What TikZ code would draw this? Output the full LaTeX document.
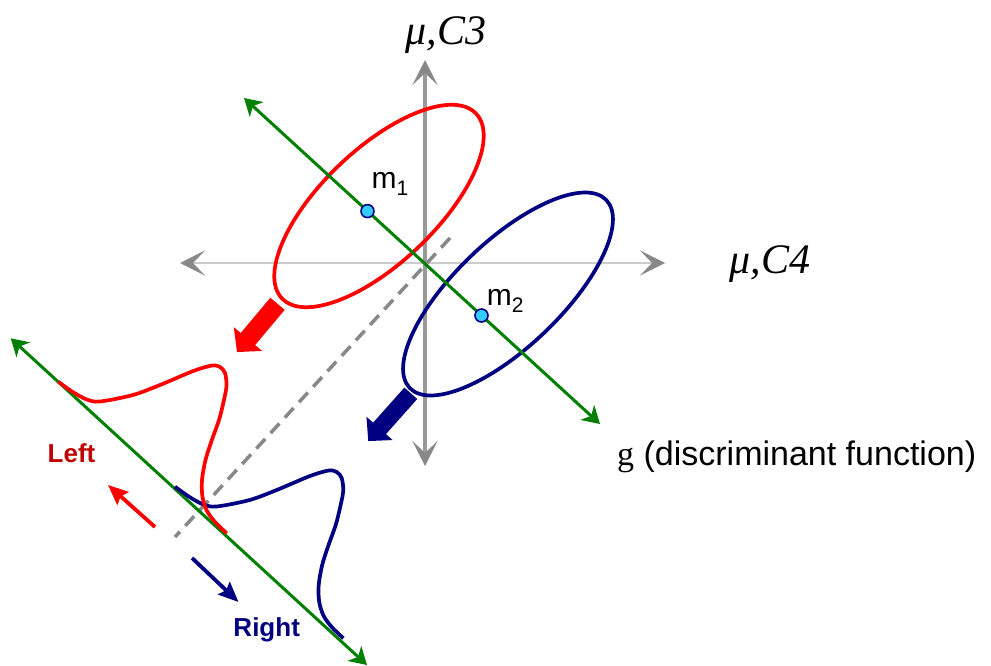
\documentclass[tikz,border=0pt]{standalone}
\usepackage{fontspec}
\setmainfont{Liberation Sans}
\newfontfamily\tnr{Liberation Serif}
\usetikzlibrary{arrows.meta}
\definecolor{gred}{HTML}{FF0000}
\definecolor{gnavy}{HTML}{000080}
\definecolor{ggreen}{HTML}{008000}
\definecolor{gcyan}{HTML}{33CCFF}
\definecolor{gaxis}{HTML}{999999}
\definecolor{ghead}{HTML}{888888}
\definecolor{glight}{HTML}{CCCCCC}
\definecolor{gdark}{HTML}{C00000}
\tikzset{
  graytip/.tip={Stealth[length=25pt,width=25pt,inset=12pt,color=ghead]},
  greentip/.tip={Stealth[length=17pt,width=20pt,inset=5pt]},
  smalltip/.tip={Stealth[length=20pt,width=17pt,inset=3pt]},
  axish/.style={draw=glight, line width=1.4pt, graytip-graytip},
  axisv/.style={draw=gaxis, line width=3.5pt, graytip-graytip},
  gline/.style={draw=ggreen, line width=3pt, greentip-greentip},
  dashln/.style={draw=ghead, line width=3.5pt, dash pattern=on 13pt off 8pt},
  ellred/.style={draw=gred, line width=3.7pt},
  ellblue/.style={draw=gnavy, line width=3.7pt},
  mpt/.style={circle, draw=gnavy, fill=gcyan, line width=1.6pt, minimum size=13pt, inner sep=0pt},
  mlab/.style={anchor=base west, inner sep=0pt, font=\fontsize{30}{34}\selectfont},
  axlab/.style={anchor=base, inner sep=0pt, font=\fontsize{42}{48}\selectfont\tnr\itshape},
  dirlab/.style={anchor=base, inner sep=0pt, font=\bfseries\fontsize{26}{30}\selectfont},
  smallarrow/.style={line width=3.8pt, -smalltip},
  gauss/.pic={\path[pic actions] plot[smooth] coordinates {
    (58.3,381.7) (72,391.5) (86.7,399.5) (100,401.5) (133,395) (160,385)
    (193.3,371) (212,365.5) (220,367) (225,373) (226.5,386) (223.5,402)
    (219,420) (211.5,441) (205.5,460) (202,480) (202.5,497) (207,511)
    (215.5,522.5) (226.7,533.3)};}
}
\begin{document}
\begin{tikzpicture}[x=1pt,y=-1pt]
\useasboundingbox (0,0) rectangle (991,666);
% axes
\coordinate (hL) at (180,263);
\coordinate (hR) at (665,263);
\coordinate (vT) at (425,60);
\coordinate (vB) at (425,466);
\draw[axish] (hL) -- (hR);
\draw[axisv] (vB) -- (vT);
% ellipses
\draw[ellred, rotate around={43.6:(379,206)}] (379,206) ellipse [x radius=134pt, y radius=57pt];
\draw[ellblue, rotate around={43.7:(508,294)}] (508,294) ellipse [x radius=136pt, y radius=53pt];
% dashed separation line
\coordinate (dA) at (450,238);
\coordinate (dB) at (175,537);
\draw[dashln] (dA) -- (dB);
% discriminant lines
\coordinate (gA) at (244,98);
\coordinate (gB) at (600,424);
\draw[gline] (gA) -- (gB);
\coordinate (lA) at (10.7,338.3);
\coordinate (lB) at (367,665);
\draw[gline] (lA) -- (lB);
% projected distributions
\pic[draw=gnavy, line width=3.7pt] at (116.7,105) {gauss};
\pic[draw=gred, line width=3.7pt] at (0,0) {gauss};
% fat arrows
\fill[gred, shift={(277.5,303.8)}, rotate=230]
  (0,-9.4) -- (46,-9.4) -- (46,-18.5) -- (63,0) -- (46,18.5) -- (46,9.4) -- (0,9.4) -- cycle;
\fill[gnavy, shift={(410.8,393.3)}, rotate=228.3]
  (0,-8.6) -- (47,-8.6) -- (47,-17.5) -- (64,0) -- (47,17.5) -- (47,8.6) -- (0,8.6) -- cycle;
% small direction arrows
\coordinate (laS) at (155,527);
\coordinate (laE) at (108,485);
\draw[smallarrow, draw=gred, fill=gred] (laS) -- (laE);
\coordinate (raS) at (192,558);
\coordinate (raE) at (238.5,602);
\draw[smallarrow, draw=gnavy, fill=gnavy] (raS) -- (raE);
% means
\node[mpt] (m1) at (367.5,211.1) {};
\node[mpt] (m2) at (481.5,315.5) {};
\node[mlab] (m1lab) at (371.5,188.3) {m\raisebox{-7pt}{\fontsize{21}{23}\selectfont 1}};
\node[mlab] (m2lab) at (486.7,305) {m\raisebox{-7.5pt}{\fontsize{21}{23}\selectfont 2}};
% labels
\node[axlab] (c3) at (446,45) {μ,C3};
\node[axlab] (c4) at (770,273) {μ,C4};
\node[anchor=base west, inner sep=0pt, font=\fontsize{34}{40}\selectfont] (glab) at (617,465) {{\tnr g} (discriminant function)};
\node[dirlab, text=gdark] (leftlab) at (71.5,462) {Left};
\node[dirlab, text=gnavy] (rightlab) at (266.7,636) {Right};
\end{tikzpicture}
\end{document}
